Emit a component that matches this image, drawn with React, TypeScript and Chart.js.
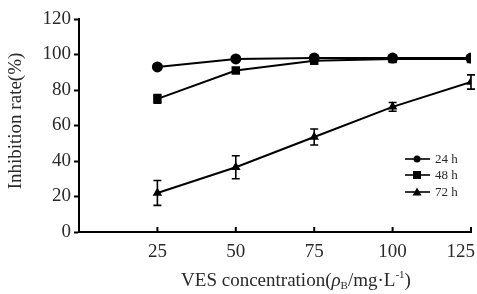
import React, { useEffect, useRef } from "react";
import { Chart, registerables } from "chart.js";

Chart.register(...registerables);

const concentrations = [25, 50, 75, 100, 125];
const xTickValues = [25, 50, 75, 100, 125];
const yTickValues = [0, 20, 40, 60, 80, 100, 120];
const seriesNames = ["24 h", "48 h", "72 h"];
const values24h = [93, 97.5, 98, 98, 98];
const values48h = [75, 91, 96.5, 97.5, 97.5];
const values72h = [22, 36.5, 53.5, 70.5, 84.5];
const errors24h = [0.8, 0.5, 0.5, 0.5, 0.5];
const errors48h = [2.5, 1, 1, 1, 0.8];
const errors72h = [7, 6.5, 4.5, 2.5, 4];
const pointStyles = ["circle", "rect", "triangle"];

const FONT = "'Liberation Serif', 'Times New Roman', serif";
const TEXT = "#2a2a2a";
const FS = 19;

export default function App() {
  const ref = useRef<HTMLCanvasElement | null>(null);

  useEffect(() => {
    const canvas = ref.current;
    if (!canvas) return;
    const seriesValues = [values24h, values48h, values72h];
    const seriesErrors = [errors24h, errors48h, errors72h];

    const datasets = seriesNames.map((name, i) => ({
      label: name,
      data: concentrations.map((c, j) => ({ x: c, y: seriesValues[i][j] })),
      borderColor: "#000",
      backgroundColor: "#000",
      borderWidth: 2,
      pointStyle: pointStyles[i],
      pointRadius: i === 1 ? 6 : 5.5,
      pointBorderWidth: 0,
      showLine: true,
      tension: 0,
      errors: seriesErrors[i],
    }));

    const customPlugin = {
      id: "custom",
      afterDatasetsDraw(chart: any) {
        const ctx = chart.ctx;
        const xs = chart.scales.x;
        const ys = chart.scales.y;
        const area = chart.chartArea;
        ctx.save();
        // error bars
        ctx.strokeStyle = "#000";
        ctx.lineWidth = 1.6;
        chart.data.datasets.forEach((ds: any) => {
          ds.data.forEach((p: any, j: number) => {
            const e = ds.errors[j];
            if (!e || e < 1.5) return;
            const px = xs.getPixelForValue(p.x);
            const top = ys.getPixelForValue(p.y + e);
            const bot = ys.getPixelForValue(p.y - e);
            ctx.beginPath();
            ctx.moveTo(px, top);
            ctx.lineTo(px, bot);
            ctx.moveTo(px - 4, top);
            ctx.lineTo(px + 4, top);
            ctx.moveTo(px - 4, bot);
            ctx.lineTo(px + 4, bot);
            ctx.stroke();
          });
        });
        // x ticks (inward) and labels
        ctx.lineWidth = 2;
        ctx.fillStyle = TEXT;
        ctx.font = `${FS}px ${FONT}`;
        ctx.textAlign = "center";
        ctx.textBaseline = "alphabetic";
        const W = chart.width;
        xTickValues.forEach((v) => {
          const px = xs.getPixelForValue(v);
          ctx.beginPath();
          ctx.moveTo(px, area.bottom);
          ctx.lineTo(px, area.bottom - 5);
          ctx.stroke();
          const label = String(v);
          const w = ctx.measureText(label).width;
          const cx = Math.min(px, W - 2 - w / 2);
          ctx.fillText(label, cx, area.bottom + 25);
        });
        // x title
        const parts: [string, string, number][] = [
          ["VES concentration(", `${FS}px ${FONT}`, 0],
          ["ρ", `italic ${FS}px ${FONT}`, 0],
          ["B", `11px ${FONT}`, 3],
          ["/mg·L", `${FS}px ${FONT}`, 0],
          ["-1", `11px ${FONT}`, -8],
          [")", `${FS}px ${FONT}`, 0],
        ];
        let total = 0;
        parts.forEach(([t, f]) => {
          ctx.font = f;
          total += ctx.measureText(t).width;
        });
        let x0 = 296 - total / 2;
        ctx.textAlign = "left";
        parts.forEach(([t, f, dy]) => {
          ctx.font = f;
          ctx.fillText(t, x0, 286 + dy);
          x0 += ctx.measureText(t).width;
        });
        // y title
        ctx.save();
        ctx.translate(21, 121);
        ctx.rotate(-Math.PI / 2);
        ctx.font = `${FS}px ${FONT}`;
        ctx.textAlign = "center";
        ctx.fillText("Inhibition rate(%)", 0, 0);
        ctx.restore();
        // legend
        const ly = [159, 175, 192];
        seriesNames.forEach((name, i) => {
          const y = ly[i];
          ctx.strokeStyle = "#000";
          ctx.lineWidth = 1.6;
          ctx.beginPath();
          ctx.moveTo(405, y);
          ctx.lineTo(430, y);
          ctx.stroke();
          ctx.fillStyle = "#000";
          const cx = 417;
          ctx.beginPath();
          if (i === 0) {
            ctx.arc(cx, y, 3.5, 0, Math.PI * 2);
          } else if (i === 1) {
            ctx.rect(cx - 4, y - 4, 8, 8);
          } else {
            ctx.moveTo(cx, y - 4.5);
            ctx.lineTo(cx + 4.5, y + 3.5);
            ctx.lineTo(cx - 4.5, y + 3.5);
            ctx.closePath();
          }
          ctx.fill();
          ctx.fillStyle = TEXT;
          ctx.font = `13px ${FONT}`;
          ctx.textAlign = "left";
          ctx.textBaseline = "middle";
          ctx.fillText(name, 435, y + 1);
          ctx.textBaseline = "alphabetic";
        });
        ctx.restore();
      },
    };

    const chart = new Chart(canvas, {
      type: "scatter",
      data: { datasets: datasets as any },
      options: {
        animation: false,
        responsive: false,
        maintainAspectRatio: false,
        layout: { padding: { top: 19, right: 5, left: 0, bottom: 0 } },
        plugins: { legend: { display: false }, tooltip: { enabled: false } },
        scales: {
          x: {
            type: "linear",
            min: 0,
            max: 125,
            afterFit: (s: any) => {
              s.height = 62;
              s.paddingLeft = 0;
              s.paddingRight = 0;
            },
            afterBuildTicks: (s: any) => {
              s.ticks = xTickValues.map((v) => ({ value: v }));
            },
            ticks: { display: false },
            grid: { display: false, drawTicks: false },
            border: { display: true, color: "#000", width: 2 },
          },
          y: {
            type: "linear",
            min: 0,
            max: 120,
            afterFit: (s: any) => {
              s.width = 79;
            },
            afterBuildTicks: (s: any) => {
              s.ticks = yTickValues.map((v) => ({ value: v }));
            },
            ticks: {
              color: TEXT,
              font: { family: FONT, size: FS },
              padding: 3,
            },
            grid: {
              display: true,
              drawOnChartArea: false,
              drawTicks: true,
              tickLength: 5,
              tickWidth: 2,
              tickColor: "#000",
            },
            border: { display: true, color: "#000", width: 2 },
          },
        },
      },
      plugins: [customPlugin],
    });
    return () => chart.destroy();
  }, []);

  return (
    <div style={{ position: "fixed", left: 0, top: 0, width: 477, height: 294, background: "#fff" }}>
      <canvas ref={ref} width={477} height={294} style={{ width: 477, height: 294 }} />
    </div>
  );
}
